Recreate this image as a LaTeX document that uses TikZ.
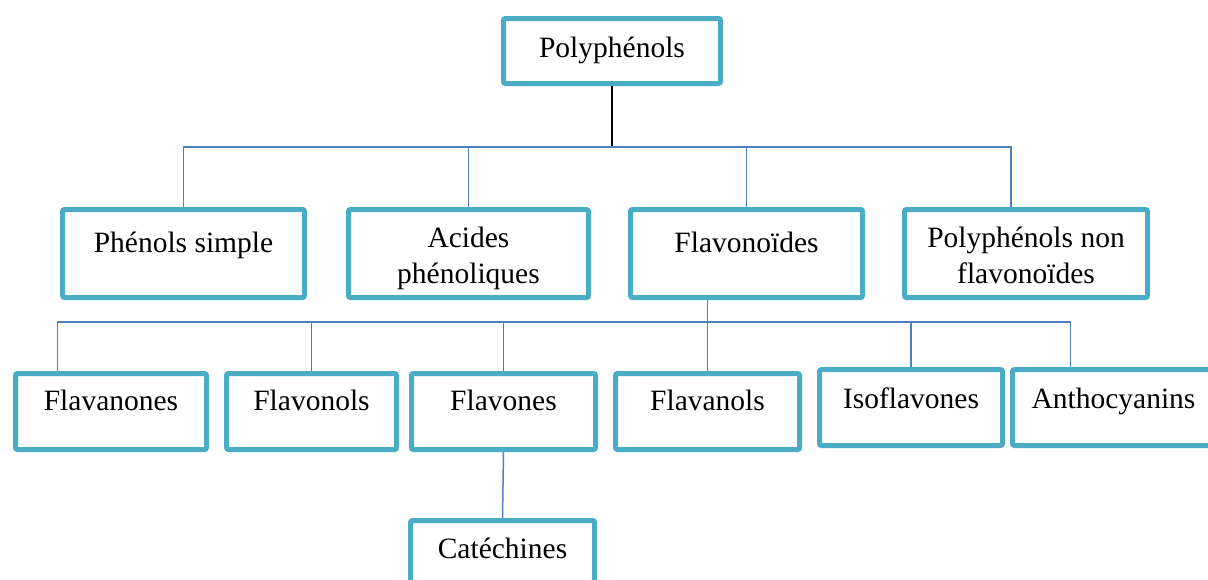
\documentclass[tikz,border=0pt]{standalone}
\usepackage{fontspec}
\setmainfont{Liberation Serif}
\usepackage{tikz}
\usetikzlibrary{calc,backgrounds}
\definecolor{boxteal}{RGB}{75,172,198}
\definecolor{linkblue}{RGB}{79,129,189}

\begin{document}
\begin{tikzpicture}[x=0.5pt, y=-0.5pt,
    box/.style={rectangle, draw=boxteal, line width=2.5pt, rounded corners=1pt, fill=white, inner sep=0pt, align=center, font=\fontsize{14.75}{18}\selectfont},
    upper/.style={text height=21.25pt, text depth=22.75pt},
    twoline/.style={text height=36.75pt, text depth=7.25pt},
    lower/.style={text height=18.25pt, text depth=19.75pt},
    link/.style={draw=linkblue, line width=0.75pt},
    stem/.style={draw=black, line width=1pt}]

    \clip (0,0) rectangle (1208,579);

    \node[box, text height=19.25pt, text depth=13.25pt, minimum width=108.5pt] (poly) at (612,51) {Polyphénols};

    \node[box, upper, minimum width=121pt] (phen) at (183.5,253.5) {Phénols simple};
    \node[box, twoline, minimum width=120pt] (acid) at (468.5,253.5) {Acides\\phénoliques};
    \node[box, upper, minimum width=116pt] (flav) at (746.5,253.5) {Flavonoïdes};
    \node[box, twoline, minimum width=121.5pt] (nonflav) at (1026,253.5) {Polyphénols non\\flavonoïdes};

    \node[box, lower, minimum width=95.5pt] (flavanones) at (111,411.5) {Flavanones};
    \node[box, lower, minimum width=85pt] (flavonols) at (311.5,411.5) {Flavonols};
    \node[box, lower, minimum width=92pt] (flavones) at (503.5,411.5) {Flavones};
    \node[box, lower, minimum width=92pt] (flavanols) at (707.5,411.5) {Flavanols};
    \node[box, text height=19.25pt, text depth=18.75pt, minimum width=91.5pt] (isoflavones) at (911,407.5) {Isoflavones};
    \node[box, text height=19.25pt, text depth=18.75pt, minimum width=101pt] (antho) at (1113.5,407.5) {Anthocyanins};
    \node[box, text height=18.75pt, text depth=19.75pt, minimum width=92pt] (cat) at (502.5,559) {Catéchines};

    \coordinate (hub) at (612,147);
    \coordinate (hubflav) at (707.5,322);

    \begin{scope}[on background layer]
    \draw[stem] (poly) -- (hub);
    \draw[link] (phen.north) |- (hub);
    \draw[link] ($(nonflav.north)+(-15,0)$) |- (hub);
    \draw[link] (acid.north) -- (acid.north |- hub);
    \draw[link] (flav.north) -- (flav.north |- hub);

    \draw[link] (flavanols.north |- flav.south) -- (flavanols.north);
    \draw[link] ($(flavanones.north west)+(44.5,0)$) |- (hubflav);
    \draw[link] ($(antho.north west)+(60.5,0)$) |- (hubflav);
    \draw[link] (flavonols.north) -- (flavonols.north |- hubflav);
    \draw[link] (flavones.north) -- (flavones.north |- hubflav);
    \draw[link] (isoflavones.north) -- (isoflavones.north |- hubflav);
    \draw[link] (flavones.south) -- (cat.north);
    \end{scope}
\end{tikzpicture}
\end{document}
